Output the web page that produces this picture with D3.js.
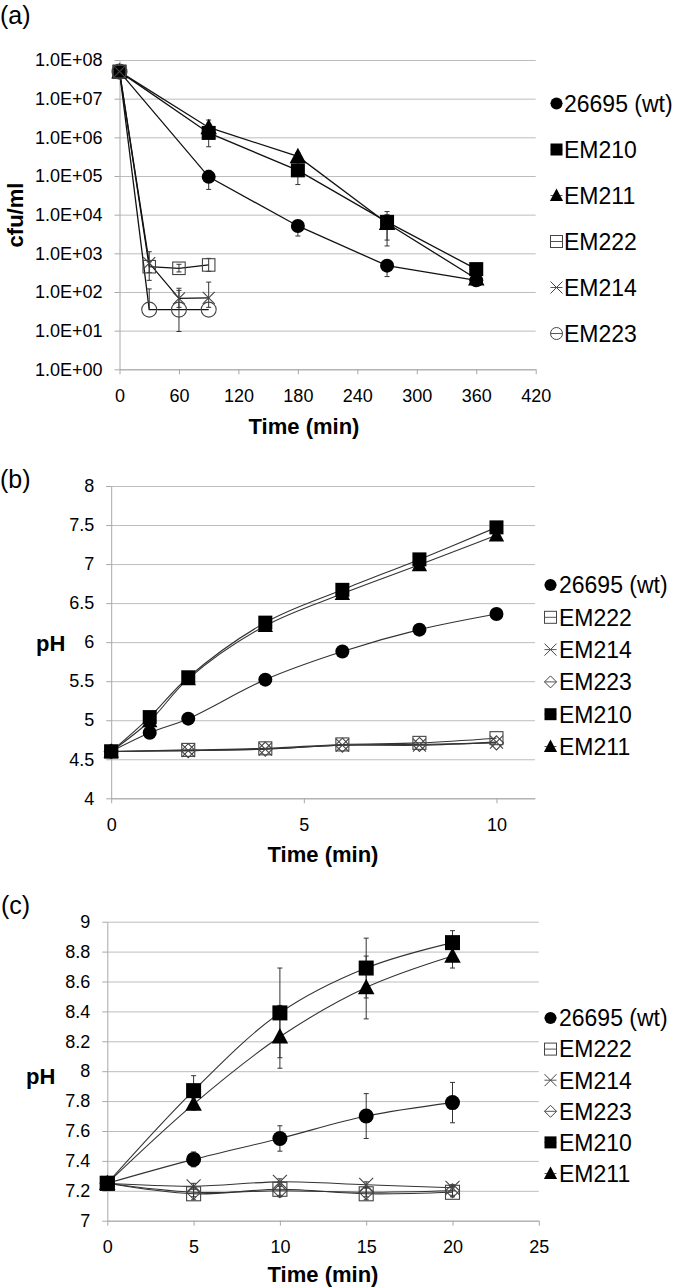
<!DOCTYPE html>
<html><head><meta charset="utf-8">
<script src="https://cdn.jsdelivr.net/npm/d3@7"></script>
<style>
body{margin:0;background:#fff}
text{font-family:"Liberation Sans",Arial,Helvetica,sans-serif;fill:#000}
</style>
</head><body>
<svg id="chart" width="676" height="1288"></svg>
<script>
// ---------------- DATA ----------------
// Panel (a): survival, cfu/ml vs time (min)
const aXTicks = [0, 60, 120, 180, 240, 300, 360, 420];
const aYTicks = [1, 10, 1e2, 1e3, 1e4, 1e5, 1e6, 1e7, 1e8];
const aYTickLabels = ["1.0E+00","1.0E+01","1.0E+02","1.0E+03","1.0E+04","1.0E+05","1.0E+06","1.0E+07","1.0E+08"];
const aNames = ["26695 (wt)", "EM210", "EM211", "EM222", "EM214", "EM223"];
const aTimeLong = [0, 90, 180, 270, 360];
const aTimeShort = [0, 30, 60, 90];
const aWT    = [5e7, 9.5e4, 5.1e3, 4.8e2, 2.0e2];
const aWTlo  = [null, 4.5e4, 2.8e3, 2.5e2, null];
const aWThi  = [null, 1.4e5, 7.0e3, 6.0e2, null];
const aEM210   = [5e7, 1.3e6, 1.4e5, 6.5e3, 3.9e2];
const aEM210lo = [null, 5.7e5, 6.0e4, 1.55e3, null];
const aEM210hi = [null, 2.2e6, 2.5e5, 1.2e4, null];
const aEM211   = [5e7, 1.8e6, 3.2e5, 6.0e3, 2.2e2];
const aEM211lo = [null, 1.2e6, 2.0e5, 2.2e3, null];
const aEM211hi = [null, 2.8e6, 4.0e5, 1.0e4, null];
const aEM222   = [5e7, 4.5e2, 4.1e2, 5.0e2];
const aEM222lo = [null, 3.2e2, 3.3e2, 3.4e2];
const aEM222hi = [null, 6.0e2, 5.2e2, 7.4e2];
const aEM214   = [5e7, 5.6e2, 68, 70];
const aEM214lo = [null, 2.0e2, 40, 40];
const aEM214hi = [null, 1.1e3, 1.25e2, 1.8e2];
const aEM223   = [5e7, 35, 35, 35];
const aEM223lo = [null, null, 9.5, null];
const aEM223hi = [null, 1.2e2, 1.1e2, null];

// Panel (b): pH vs time (min), 0-10 min
const bXTicks = [0, 5, 10];
const bYTicks = [4, 4.5, 5, 5.5, 6, 6.5, 7, 7.5, 8];
const bYTickLabels = ["4","4.5","5","5.5","6","6.5","7","7.5","8"];
const bNames = ["26695 (wt)", "EM222", "EM214", "EM223", "EM210", "EM211"];
const bTimeMain = [0, 1, 2, 4, 6, 8, 10];
const bTimeLow = [0, 2, 4, 6, 8, 10];
const bWT    = [4.6, 4.84, 5.02, 5.52, 5.88, 6.16, 6.36];
const bEM210 = [4.6, 5.04, 5.55, 6.25, 6.67, 7.06, 7.47];
const bEM211 = [4.6, 4.99, 5.53, 6.21, 6.62, 6.99, 7.37];
const bEM222 = [4.6, 4.62, 4.64, 4.69, 4.71, 4.77];
const bEM214 = [4.6, 4.61, 4.63, 4.68, 4.68, 4.72];
const bEM223 = [4.6, 4.61, 4.63, 4.68, 4.69, 4.71];

// Panel (c): pH vs time (min), 0-20 min
const cXTicks = [0, 5, 10, 15, 20, 25];
const cYTicks = [7, 7.2, 7.4, 7.6, 7.8, 8, 8.2, 8.4, 8.6, 8.8, 9];
const cYTickLabels = ["7","7.2","7.4","7.6","7.8","8","8.2","8.4","8.6","8.8","9"];
const cNames = ["26695 (wt)", "EM222", "EM214", "EM223", "EM210", "EM211"];
const cTime = [0, 5, 10, 15, 20];
const cWT       = [7.25, 7.41, 7.55, 7.70, 7.79];
const cWTerr    = [0, 0.05, 0.085, 0.15, 0.135];
const cEM210    = [7.25, 7.87, 8.39, 8.69, 8.86];
const cEM210err = [0, 0.10, 0.30, 0.20, 0.08];
const cEM211    = [7.25, 7.78, 8.23, 8.56, 8.77];
const cEM211err = [0, 0.04, 0.21, 0.21, 0.08];
const cEM222    = [7.25, 7.18, 7.21, 7.18, 7.19];
const cEM222err = [0, 0.04, 0.05, 0.04, 0.03];
const cEM214    = [7.25, 7.23, 7.26, 7.24, 7.22];
const cEM214err = [0, 0.02, 0.02, 0.02, 0.02];
const cEM223    = [7.25, 7.19, 7.20, 7.19, 7.20];
const cEM223err = [0, 0.03, 0.03, 0.03, 0.03];

// ---------------- DRAWING ----------------
const svg = d3.select("#chart");
svg.append("rect").attr("width", 676).attr("height", 1288).attr("fill", "#fff");

const GRID = "#bdbdbd", AXIS = "#a8a8a8";

function marker(g, type, x, y, s, col, sw) {
  const h = s / 2;
  sw = sw || 1.1;
  switch (type) {
    case "circle":
      g.append("circle").attr("cx", x).attr("cy", y).attr("r", h).attr("fill", col); break;
    case "square":
      g.append("rect").attr("x", x - h).attr("y", y - h).attr("width", s).attr("height", s).attr("fill", col); break;
    case "triangle":
      g.append("path").attr("d", `M${x},${y - s * 0.58}L${x + s * 0.55},${y + s * 0.45}L${x - s * 0.55},${y + s * 0.45}Z`).attr("fill", col); break;
    case "osquare":
      g.append("rect").attr("x", x - h).attr("y", y - h).attr("width", s).attr("height", s)
        .attr("fill", "none").attr("stroke", col).attr("stroke-width", sw); break;
    case "x":
      g.append("path").attr("d", `M${x - h},${y - h}L${x + h},${y + h}M${x + h},${y - h}L${x - h},${y + h}`)
        .attr("fill", "none").attr("stroke", col).attr("stroke-width", sw); break;
    case "ocircle":
      g.append("circle").attr("cx", x).attr("cy", y).attr("r", h).attr("fill", "none").attr("stroke", col).attr("stroke-width", sw); break;
    case "odiamond":
      g.append("path").attr("d", `M${x},${y - h}L${x + h},${y}L${x},${y + h}L${x - h},${y}Z`)
        .attr("fill", "none").attr("stroke", col).attr("stroke-width", sw); break;
  }
}

function panel(cfg) {
  const g = svg.append("g");
  const x = cfg.x, y = cfg.y;
  const [x0, x1] = x.range();
  const [yBot, yTop] = y.range();

  // gridlines
  g.append("g").attr("transform", `translate(${x0},0)`)
    .call(d3.axisLeft(y).tickValues(cfg.yTicks).tickSize(-(x1 - x0)).tickFormat(""))
    .call(s => { s.select(".domain").remove(); s.selectAll("line").attr("stroke", GRID).attr("stroke-width", 1); });

  // y axis
  g.append("g").attr("transform", `translate(${x0},0)`)
    .call(d3.axisLeft(y).tickValues(cfg.yTicks).tickSizeInner(5).tickSizeOuter(0).tickPadding(12)
      .tickFormat((d, i) => cfg.yLabels[i]))
    .call(s => {
      s.select(".domain").attr("stroke", AXIS);
      s.selectAll(".tick line").attr("stroke", AXIS);
      s.selectAll("text").attr("font-size", 18).attr("font-family", null).attr("fill", "#000");
    });

  // x axis
  g.append("g").attr("transform", `translate(0,${yBot})`)
    .call(d3.axisBottom(x).tickValues(cfg.xTicks).tickSizeInner(5).tickSizeOuter(0).tickPadding(15)
      .tickFormat(d3.format("d")))
    .call(s => {
      s.select(".domain").attr("stroke", AXIS);
      s.selectAll(".tick line").attr("stroke", AXIS);
      s.selectAll("text").attr("font-size", 18).attr("font-family", null).attr("fill", "#000");
    });

  // series lines
  const lines = g.append("g");
  cfg.series.forEach(sr => {
    const pts = sr.t.map((t, i) => [x(t), y(sr.v[i])]);
    lines.append("path").attr("d", d3.line().curve(cfg.curve)(pts))
      .attr("fill", "none").attr("stroke", cfg.lineColor).attr("stroke-width", cfg.lineWidth);
  });

  // error bars
  const eb = g.append("g").attr("stroke", "#333").attr("stroke-width", 1);
  cfg.series.forEach(sr => {
    sr.t.forEach((t, i) => {
      const lo = sr.lo ? sr.lo[i] : null, hi = sr.hi ? sr.hi[i] : null;
      const cx = x(t);
      if (lo != null) {
        eb.append("line").attr("x1", cx).attr("x2", cx).attr("y1", y(sr.v[i])).attr("y2", y(lo));
        eb.append("line").attr("x1", cx - 2.5).attr("x2", cx + 2.5).attr("y1", y(lo)).attr("y2", y(lo));
      }
      if (hi != null) {
        eb.append("line").attr("x1", cx).attr("x2", cx).attr("y1", y(sr.v[i])).attr("y2", y(hi));
        eb.append("line").attr("x1", cx - 2.5).attr("x2", cx + 2.5).attr("y1", y(hi)).attr("y2", y(hi));
      }
    });
  });

  // markers
  const mk = g.append("g");
  cfg.series.forEach(sr => {
    sr.t.forEach((t, i) => marker(mk, sr.marker, x(t), y(sr.v[i]), sr.size, sr.open ? "#444" : "#000"));
  });

  // legend
  const lg = g.append("g");
  cfg.series.forEach((sr, i) => {
    const j = cfg.legendOrder.indexOf(sr.name);
    const cy = cfg.legendY0 + j * cfg.legendDy;
    const mx = cfg.legendMX;
    lg.append("line").attr("x1", mx - 6).attr("x2", mx + 6).attr("y1", cy).attr("y2", cy)
      .attr("stroke", "#555").attr("stroke-width", 1);
    marker(lg, sr.marker, mx, cy, 12, sr.open ? "#444" : "#000", 1);
    lg.append("text").attr("x", cfg.legendTX).attr("y", cy + 8.3).attr("font-size", 23).text(sr.name);
  });

  // panel label, axis titles
  g.append("text").attr("x", cfg.tagX).attr("y", cfg.tagY).attr("font-size", 25).text(cfg.tag);
  g.append("text").attr("x", cfg.xTitleX).attr("y", cfg.xTitleY).attr("text-anchor", "middle")
    .attr("font-size", 22).attr("font-weight", "bold").text("Time (min)");
  if (cfg.yTitleRot) {
    g.append("text").attr("transform", `translate(${cfg.yTitleX},${cfg.yTitleY}) rotate(-90)`)
      .attr("text-anchor", "middle").attr("font-size", 22).attr("font-weight", "bold").text(cfg.yTitle);
  } else {
    g.append("text").attr("x", cfg.yTitleX).attr("y", cfg.yTitleY)
      .attr("font-size", 22).attr("font-weight", "bold").text(cfg.yTitle);
  }
}

// ---- Panel (a)
panel({
  x: d3.scaleLinear().domain([0, 420]).range([119.5, 535.7]),
  y: d3.scaleLog().domain([1, 1e8]).range([369.3, 60]),
  xTicks: aXTicks, yTicks: aYTicks, yLabels: aYTickLabels,
  curve: d3.curveLinear, lineColor: "#111", lineWidth: 1.3,
  legendOrder: aNames, legendY0: 103.5, legendDy: 46, legendMX: 556.5, legendTX: 564,
  tag: "(a)", tagX: 0, tagY: 24,
  xTitleX: 304, xTitleY: 434, yTitle: "cfu/ml", yTitleRot: true, yTitleX: 23, yTitleY: 215,
  series: [
    {name: aNames[0], t: aTimeLong, v: aWT, lo: aWTlo, hi: aWThi, marker: "circle", size: 14},
    {name: aNames[1], t: aTimeLong, v: aEM210, lo: aEM210lo, hi: aEM210hi, marker: "square", size: 14},
    {name: aNames[2], t: aTimeLong, v: aEM211, lo: aEM211lo, hi: aEM211hi, marker: "triangle", size: 15},
    {name: aNames[3], t: aTimeShort, v: aEM222, lo: aEM222lo, hi: aEM222hi, marker: "osquare", size: 12.5, open: true},
    {name: aNames[4], t: aTimeShort, v: aEM214, lo: aEM214lo, hi: aEM214hi, marker: "x", size: 12, open: true},
    {name: aNames[5], t: aTimeShort, v: aEM223, lo: aEM223lo, hi: aEM223hi, marker: "ocircle", size: 15, open: true}
  ]
});

// ---- Panel (b)
panel({
  x: d3.scaleLinear().domain([0, 11]).range([111.2, 535]),
  y: d3.scaleLinear().domain([4, 8]).range([798.3, 486]),
  xTicks: bXTicks, yTicks: bYTicks, yLabels: bYTickLabels,
  curve: d3.curveCatmullRom.alpha(0.5), lineColor: "#333", lineWidth: 1.1,
  legendOrder: bNames, legendY0: 585, legendDy: 32.3, legendMX: 550.5, legendTX: 559,
  tag: "(b)", tagX: 0, tagY: 488,
  xTitleX: 323, xTitleY: 862, yTitle: "pH", yTitleRot: false, yTitleX: 36, yTitleY: 651,
  series: [
    {name: "EM222", t: bTimeLow, v: bEM222, marker: "osquare", size: 13, open: true},
    {name: "EM214", t: bTimeLow, v: bEM214, marker: "x", size: 13, open: true},
    {name: "EM223", t: bTimeLow, v: bEM223, marker: "odiamond", size: 14, open: true},
    {name: "26695 (wt)", t: bTimeMain, v: bWT, marker: "circle", size: 14},
    {name: "EM211", t: bTimeMain, v: bEM211, marker: "triangle", size: 14},
    {name: "EM210", t: bTimeMain, v: bEM210, marker: "square", size: 14}
  ]
});

// ---- Panel (c)
const errLo = (v, e) => v.map((d, i) => e[i] ? d - e[i] : null);
const errHi = (v, e) => v.map((d, i) => e[i] ? d + e[i] : null);
panel({
  x: d3.scaleLinear().domain([0, 25]).range([107.3, 538.8]),
  y: d3.scaleLinear().domain([7, 9]).range([1220.7, 921.7]),
  xTicks: cXTicks, yTicks: cYTicks, yLabels: cYTickLabels,
  curve: d3.curveCatmullRom.alpha(0.5), lineColor: "#333", lineWidth: 1.1,
  legendOrder: cNames, legendY0: 1018, legendDy: 31.1, legendMX: 550.5, legendTX: 559,
  tag: "(c)", tagX: 1, tagY: 914,
  xTitleX: 323, xTitleY: 1282, yTitle: "pH", yTitleRot: false, yTitleX: 26, yTitleY: 1084,
  series: [
    {name: "EM222", t: cTime, v: cEM222, lo: errLo(cEM222, cEM222err), hi: errHi(cEM222, cEM222err), marker: "osquare", size: 14, open: true},
    {name: "EM214", t: cTime, v: cEM214, lo: errLo(cEM214, cEM214err), hi: errHi(cEM214, cEM214err), marker: "x", size: 14, open: true},
    {name: "EM223", t: cTime, v: cEM223, lo: errLo(cEM223, cEM223err), hi: errHi(cEM223, cEM223err), marker: "odiamond", size: 14, open: true},
    {name: "26695 (wt)", t: cTime, v: cWT, lo: errLo(cWT, cWTerr), hi: errHi(cWT, cWTerr), marker: "circle", size: 15},
    {name: "EM211", t: cTime, v: cEM211, lo: errLo(cEM211, cEM211err), hi: errHi(cEM211, cEM211err), marker: "triangle", size: 15},
    {name: "EM210", t: cTime, v: cEM210, lo: errLo(cEM210, cEM210err), hi: errHi(cEM210, cEM210err), marker: "square", size: 15}
  ]
});
</script>
</body></html>
